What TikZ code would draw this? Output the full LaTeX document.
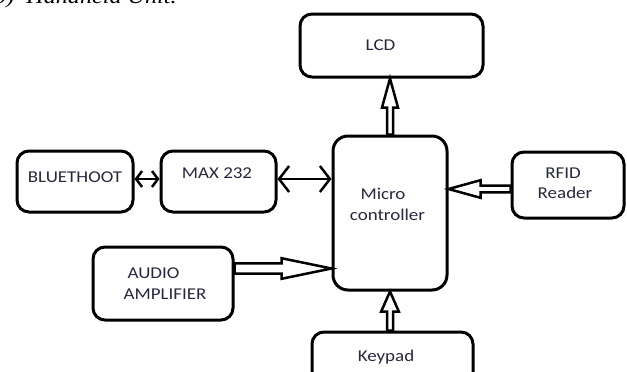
\documentclass[tikz,border=0pt]{standalone}
\usepackage{fontspec}
\setmainfont{Carlito}[FakeStretch=1.15]
\newfontfamily\captionfont{Liberation Serif}[FakeStretch=1.15]
\usetikzlibrary{arrows.meta,calc}
\definecolor{labelink}{RGB}{40,40,62}

% hollow block arrow: from, to, head length, shaft half width, head half width
\newcommand\blockarrow[5]{%
  \draw[hollow] let \p1=(#1), \p2=(#2),
    \n1={atan2(\y2-\y1,\x2-\x1)}, \n2={veclen(\x2-\x1,\y2-\y1)} in
    [shift={(\p1)}, rotate=\n1]
    (0,-#4) -- (\n2-#3,-#4) -- (\n2-#3,-#5) -- (\n2,0) --
    (\n2-#3,#5) -- (\n2-#3,#4) -- (0,#4) -- cycle;
}

\begin{document}
\begin{tikzpicture}[x=1pt,y=-1pt,
  block/.style={draw, line width=3pt, rounded corners=12pt, fill=white},
  lbl/.style={font=\fontsize{16.5}{20.5}\selectfont, text=labelink, align=center, inner sep=0pt},
  hollow/.style={draw, line width=2.5pt, fill=white, line join=miter},
  smallbi/.style={line width=2.5pt, {Straight Barb[length=6pt,width=16pt]}-{Straight Barb[length=6pt,width=16pt]}},
  largebi/.style={line width=2.5pt, {Straight Barb[length=10pt,width=26pt]}-{Straight Barb[length=10pt,width=26pt]}}
]
\useasboundingbox (0,0) rectangle (627,372);

% caption line, mostly above the page edge
\node[anchor=base west, inner sep=0pt, font=\captionfont\itshape\fontsize{21}{24}\selectfont]
  (caption) at (-6,3.5) {b)\ \ Handheld Unit.};

% blocks
\node[block, minimum width=183pt, minimum height=63pt] (lcd) at (391.5,45.5) {};
\node[block, rounded corners=15pt, minimum width=114pt, minimum height=154pt] (micro) at (390,213) {};
\node[block, minimum width=112pt, minimum height=66pt] (rfid) at (568,185) {};
\node[block, minimum width=161pt, minimum height=56pt] (keypad) at (392.5,360) {};
\node[block, minimum width=116pt, minimum height=61pt] (bt) at (75,181.5) {};
\node[block, minimum width=115pt, minimum height=61pt] (max) at (218.5,181.5) {};
\node[block, minimum width=140pt, minimum height=73pt] (audio) at (163,283.5) {};

% block texts
\node[lbl] (lcdtext) at ([xshift=-11pt]lcd.center) {LCD};
\node[lbl] (microtext) at ([xshift=-2.5pt,yshift=8.5pt]micro.center) {Micro\hspace*{9pt}\\controller};
\node[lbl] (rfidtext) at ([xshift=-3pt,yshift=1.5pt]rfid.center) {RFID\hspace*{4pt}\\Reader};
\node[lbl] (keypadtext) at ([xshift=-6.5pt,yshift=3pt]keypad.center) {Keypad};
\node[lbl] (bttext) at ([yshift=4.5pt]bt.center) {BLUETHOOT};
\node[lbl] (maxtext) at ([xshift=-1.5pt,yshift=8.5pt]max.center) {MAX 232};
\node[lbl, align=left] (audiotext) at ([xshift=2pt]audio.center) {\hspace*{4pt}AUDIO\\AMPLIFIER};

% serial links
\coordinate (btport) at ([yshift=2.5pt]bt.east);
\coordinate (maxin) at ([yshift=2.5pt]max.west);
\coordinate (maxout) at ([yshift=2.5pt]max.east);
\draw[smallbi] (btport) -- (maxin);
\draw[largebi] (maxout) -- (maxout -| micro.west);

% one-way data paths
\coordinate (audout) at ([yshift=15pt]audio.east);
\coordinate (rfout) at ([yshift=-4pt]rfid.west);
\blockarrow{audout}{audout -| micro.west}{50}{5.2}{10.3}
\blockarrow{rfout}{rfout -| micro.east}{32}{3.3}{8.8}
\blockarrow{micro.north}{micro.north |- lcd.south}{29}{3}{8}
\blockarrow{micro.south |- keypad.north}{micro.south}{20}{3}{8.8}
\end{tikzpicture}
\end{document}
